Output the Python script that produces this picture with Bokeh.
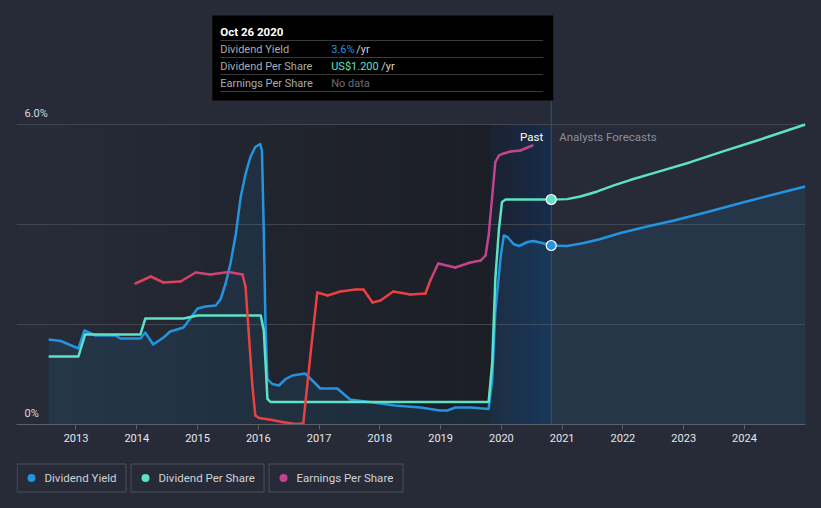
import numpy as np
from bokeh.plotting import figure
from bokeh.models import Range1d, FixedTicker
from bokeh.layouts import column
from bokeh.core.properties import value
from bokeh.embed import file_html
from bokeh.resources import INLINE

# ---------------- data ----------------
yield_years = [2012.55, 2012.75, 2013.04, 2013.14, 2013.32, 2013.65, 2013.73, 2014.06, 2014.14,
               2014.27, 2014.44, 2014.55, 2014.77, 2015.00, 2015.13, 2015.30, 2015.38, 2015.46,
               2015.54, 2015.63, 2015.71, 2015.79, 2015.87, 2015.95, 2016.03, 2016.06, 2016.09,
               2016.12, 2016.15, 2016.23, 2016.34, 2016.45, 2016.56, 2016.77, 2016.89, 2017.02,
               2017.30, 2017.51, 2018.01, 2018.25, 2018.67, 2018.99, 2019.11, 2019.24, 2019.49,
               2019.79, 2019.85, 2019.90, 2019.99, 2020.04, 2020.10, 2020.20, 2020.29, 2020.43,
               2020.53, 2020.67, 2020.82,
               2021.08, 2021.36, 2021.63, 2021.96, 2022.40, 2022.84, 2023.39, 2023.94, 2024.48,
               2025.00]
yield_pct = [1.70, 1.67, 1.52, 1.88, 1.78, 1.78, 1.72, 1.72, 1.84,
             1.60, 1.74, 1.86, 1.94, 2.32, 2.36, 2.38, 2.51, 2.81,
             3.21, 3.81, 4.55, 5.01, 5.35, 5.55, 5.61, 5.48, 3.88,
             1.88, 0.91, 0.81, 0.78, 0.91, 0.98, 1.02, 0.88, 0.72,
             0.72, 0.50, 0.42, 0.38, 0.34, 0.28, 0.28, 0.34, 0.34,
             0.31, 0.91, 2.25, 3.38, 3.78, 3.75, 3.61, 3.57, 3.65,
             3.67, 3.63, 3.58,
             3.57, 3.63, 3.71, 3.83, 3.96, 4.08, 4.25, 4.43, 4.60,
             4.76]

dps_years = [2012.55, 2013.04, 2013.15, 2014.06, 2014.14, 2014.77, 2015.00, 2016.04, 2016.09,
             2016.12, 2016.15, 2016.20, 2019.79, 2019.85, 2019.90, 2019.96, 2020.01, 2020.07,
             2020.82,
             2021.08, 2021.30, 2021.58, 2021.85, 2022.13, 2022.56, 2023.11, 2023.66, 2024.21,
             2025.00]
dps_usd = [0.363, 0.363, 0.480, 0.480, 0.565, 0.565, 0.581, 0.581, 0.501,
           0.323, 0.137, 0.120, 0.120, 0.333, 0.776, 1.043, 1.187, 1.200,
           1.200,
           1.202, 1.216, 1.243, 1.275, 1.305, 1.346, 1.399, 1.458, 1.515,
           1.600]

eps_years = [2013.98, 2014.23, 2014.44, 2014.72, 2014.97, 2015.21, 2015.51, 2015.74, 2015.79,
             2015.84, 2015.90, 2015.95, 2016.01, 2016.23, 2016.39, 2016.61, 2016.74, 2016.86,
             2016.97, 2017.14, 2017.35, 2017.60, 2017.73, 2017.88, 2018.01, 2018.22, 2018.50,
             2018.75, 2018.83, 2018.96, 2019.24, 2019.49, 2019.66, 2019.74, 2019.79, 2019.85,
             2019.90, 2019.96, 2020.01, 2020.15, 2020.31, 2020.51]
eps_rel = [2.82, 2.96, 2.84, 2.86, 3.04, 3.00, 3.05, 3.00, 2.75,
           1.88, 0.81, 0.18, 0.13, 0.09, 0.05, 0.01, 0.02, 1.42,
           2.64, 2.58, 2.66, 2.70, 2.70, 2.44, 2.48, 2.66, 2.60,
           2.62, 2.88, 3.22, 3.14, 3.24, 3.28, 3.38, 3.78, 4.58,
           5.25, 5.38, 5.41, 5.46, 5.48, 5.58]

tick_years = list(range(2013, 2025))
y_ticks = [0, 2, 4, 6]
y_tick_labels = ["0%", "6.0%"]
y_label_values = [0, 6]
legend_labels = ["Dividend Yield", "Dividend Per Share", "Earnings Per Share"]
tooltip_date = 2020.82
tooltip_title = "Oct 26 2020"
tooltip_rows = ["Dividend Yield", "Dividend Per Share", "Earnings Per Share"]
tooltip_values = ["3.6%", "US$1.200", "No data"]
past_start = 2019.82
data_start = 2012.55

# ---------------- style ----------------
BG = "#262b37"
BLUE = "#2394df"
TEAL = "#5de2c5"
RED = "#e8413f"
MAG = "#c0458e"
FONT = value("Roboto")

X0, X1 = 2012.021, 2025.004
FRAME_L, FRAME_W, ZERO_PX, PX_PER_UNIT = 16, 789, 424, 50.0
Y_TOP = ZERO_PX / PX_PER_UNIT
DPS_SCALE = 3.75  # US$ -> % axis units


def ypx(py):
    return (ZERO_PX - py) / PX_PER_UNIT


def dxpx(px):
    return px / FRAME_W * (X1 - X0)


def mix(c1, c2, t):
    a = [int(c1[i:i + 2], 16) for i in (1, 3, 5)]
    b = [int(c2[i:i + 2], 16) for i in (1, 3, 5)]
    return "#%02x%02x%02x" % tuple(int(round(a[k] + (b[k] - a[k]) * t)) for k in range(3))


p = figure(width=821, height=462, x_range=Range1d(X0, X1), y_range=Range1d(0, Y_TOP),
           y_axis_location=None, min_border_left=16, min_border_right=16,
           min_border_top=0, min_border_bottom=38, output_backend="svg",
           toolbar_location=None, background_fill_color=BG, border_fill_color=BG)
p.outline_line_color = None
p.xgrid.visible = False
p.ygrid.ticker = FixedTicker(ticks=y_ticks)
p.ygrid.grid_line_color = "#41454f"
p.ygrid.grid_line_width = 1
p.extra_y_ranges = {"dps": Range1d(0, Y_TOP / DPS_SCALE)}

# darker "history" gradient region
n = 40
edges = np.linspace(data_start, past_start, n + 1)
cols = [mix(BG, "#1b1e25", (i + 0.5) / n) for i in range(n)]
p.quad(left=edges[:-1], right=edges[1:], bottom=0, top=6, fill_color=cols,
       line_color=None, level="image")

# past band
m = 12
pe = np.linspace(past_start, tooltip_date, m + 1)
pcols = [mix("#1b2131", "#172d4a", (i + 0.5) / m) for i in range(m)]
p.quad(left=pe[:-1], right=pe[1:], bottom=0, top=6, fill_color=pcols,
       line_color=None, level="image")

# yield area + line
p.varea(x=yield_years, y1=0, y2=yield_pct, fill_color=BLUE, fill_alpha=0.11)
p.line(yield_years, yield_pct, line_color=BLUE, line_width=2.5, line_join="round")

# DPS line
p.line(dps_years, dps_usd, y_range_name="dps", line_color=TEAL, line_width=2.5,
       line_join="round")

# EPS line, coloured by level
seg_cols = []
for a, b in zip(eps_rel[:-1], eps_rel[1:]):
    v = (a + b) / 2
    t = min(1, max(0, (v - 2.75) / 0.4))
    seg_cols.append(mix(RED, MAG, t))
p.segment(x0=eps_years[:-1], y0=eps_rel[:-1], x1=eps_years[1:], y1=eps_rel[1:],
          line_color=seg_cols, line_width=2.5, line_cap="round")

# date line
p.segment(x0=[tooltip_date], y0=[0], x1=[tooltip_date], y1=[ypx(100)],
          line_color="#34557c", line_width=1)

# markers
iy = yield_years.index(tooltip_date)
idp = dps_years.index(tooltip_date)
p.scatter([tooltip_date], [yield_pct[iy]], size=10, fill_color=BLUE, line_color="white",
          line_width=1.2)
p.scatter([tooltip_date], [dps_usd[idp]], y_range_name="dps", size=10, fill_color=TEAL,
          line_color="white", line_width=1.2)

# y labels
p.text(x=[X0] * 2, y=y_label_values, text=y_tick_labels, x_offset=8, y_offset=-5,
       text_baseline="bottom", text_font=FONT, text_font_size="11px", text_color="#d8dadf")

# Past / Forecast labels
p.text(x=[tooltip_date], y=[ypx(136)], text=["Past"], x_offset=-8, text_align="right",
       text_baseline="middle", text_font=FONT, text_font_size="11.5px", text_color="#ffffff")
p.text(x=[tooltip_date], y=[ypx(136)], text=["Analysts Forecasts"], x_offset=8,
       text_align="left", text_baseline="middle", text_font=FONT, text_font_size="11.5px",
       text_color="#8b909a")

# tooltip
tr = tooltip_date + dxpx(2)
tl = tr - dxpx(341)
p.quad(left=[tl], right=[tr], top=[ypx(15)], bottom=[ypx(100)], fill_color="#000000",
       line_color=None, level="overlay")
p.segment(x0=[tl + dxpx(8)] * 4, x1=[tr - dxpx(10)] * 4,
          y0=[ypx(v) for v in (40, 57, 74, 91)], y1=[ypx(v) for v in (40, 57, 74, 91)],
          line_color="#3a3a3a", line_width=1, level="overlay")
p.text(x=[tl + dxpx(8)], y=[ypx(31)], text=[tooltip_title], text_baseline="middle",
       text_font=FONT, text_font_size="11.5px", text_font_style="bold", text_color="white",
       level="overlay")
p.text(x=[tl + dxpx(8)] * 3, y=[ypx(v) for v in (48.5, 65.5, 82.5)], text=tooltip_rows,
       text_baseline="middle", text_font=FONT, text_font_size="11px", text_color="#a9abb0",
       level="overlay")
vx = tl + dxpx(119)
p.text(x=[vx] * 3, y=[ypx(v) for v in (48.5, 65.5, 82.5)], text=tooltip_values,
       text_baseline="middle", text_font=FONT, text_font_size="11px",
       text_color=[BLUE, TEAL, "#6a6c70"], level="overlay")
p.text(x=[vx + dxpx(25), vx + dxpx(50)], y=[ypx(48.5), ypx(65.5)], text=["/yr", "/yr"],
       text_baseline="middle", text_font=FONT, text_font_size="11px", text_color="#d0d2d6",
       level="overlay")

# x axis
p.xaxis.ticker = FixedTicker(ticks=tick_years)
p.xaxis.axis_line_color = "#5b606b"
p.xaxis.major_tick_line_color = "#5b606b"
p.xaxis.major_tick_out = 5
p.xaxis.major_tick_in = 0
p.xaxis.minor_tick_line_color = None
p.xaxis.major_label_text_color = "#e6e7ea"
p.xaxis.major_label_text_font = "Roboto"
p.xaxis.major_label_text_font_size = "11px"
p.xaxis.major_label_standoff = 4

# legend strip (its frame is aligned with the main frame: 16..805 px)
q = figure(width=821, height=46, x_range=Range1d(FRAME_L, FRAME_L + FRAME_W),
           y_range=Range1d(46, 0), x_axis_location=None, y_axis_location=None,
           min_border_left=16, min_border_right=16, min_border_top=0, min_border_bottom=0,
           output_backend="svg", toolbar_location=None,
           background_fill_color=BG, border_fill_color=BG)
q.outline_line_color = None
q.xgrid.visible = False
q.ygrid.visible = False
box_l = [16.5, 130.5, 268.5]
box_r = [125.5, 263.5, 402.5]
q.quad(left=box_l, right=box_r, top=1.5, bottom=29.5, fill_color=BG, line_color="#4b505b",
       line_width=1)
q.scatter([b + 14.5 for b in box_l], [15.5] * 3, size=8, fill_color=[BLUE, TEAL, MAG],
          line_color=None)
q.text(x=[b + 27.5 for b in box_l], y=[15.5] * 3, text=legend_labels, text_baseline="middle",
       text_font=FONT, text_font_size="11.5px", text_color="#cfd2d7")

layout = column(p, q, spacing=0)
layout.background = BG
open("out.html", "w").write(file_html(layout, INLINE))
